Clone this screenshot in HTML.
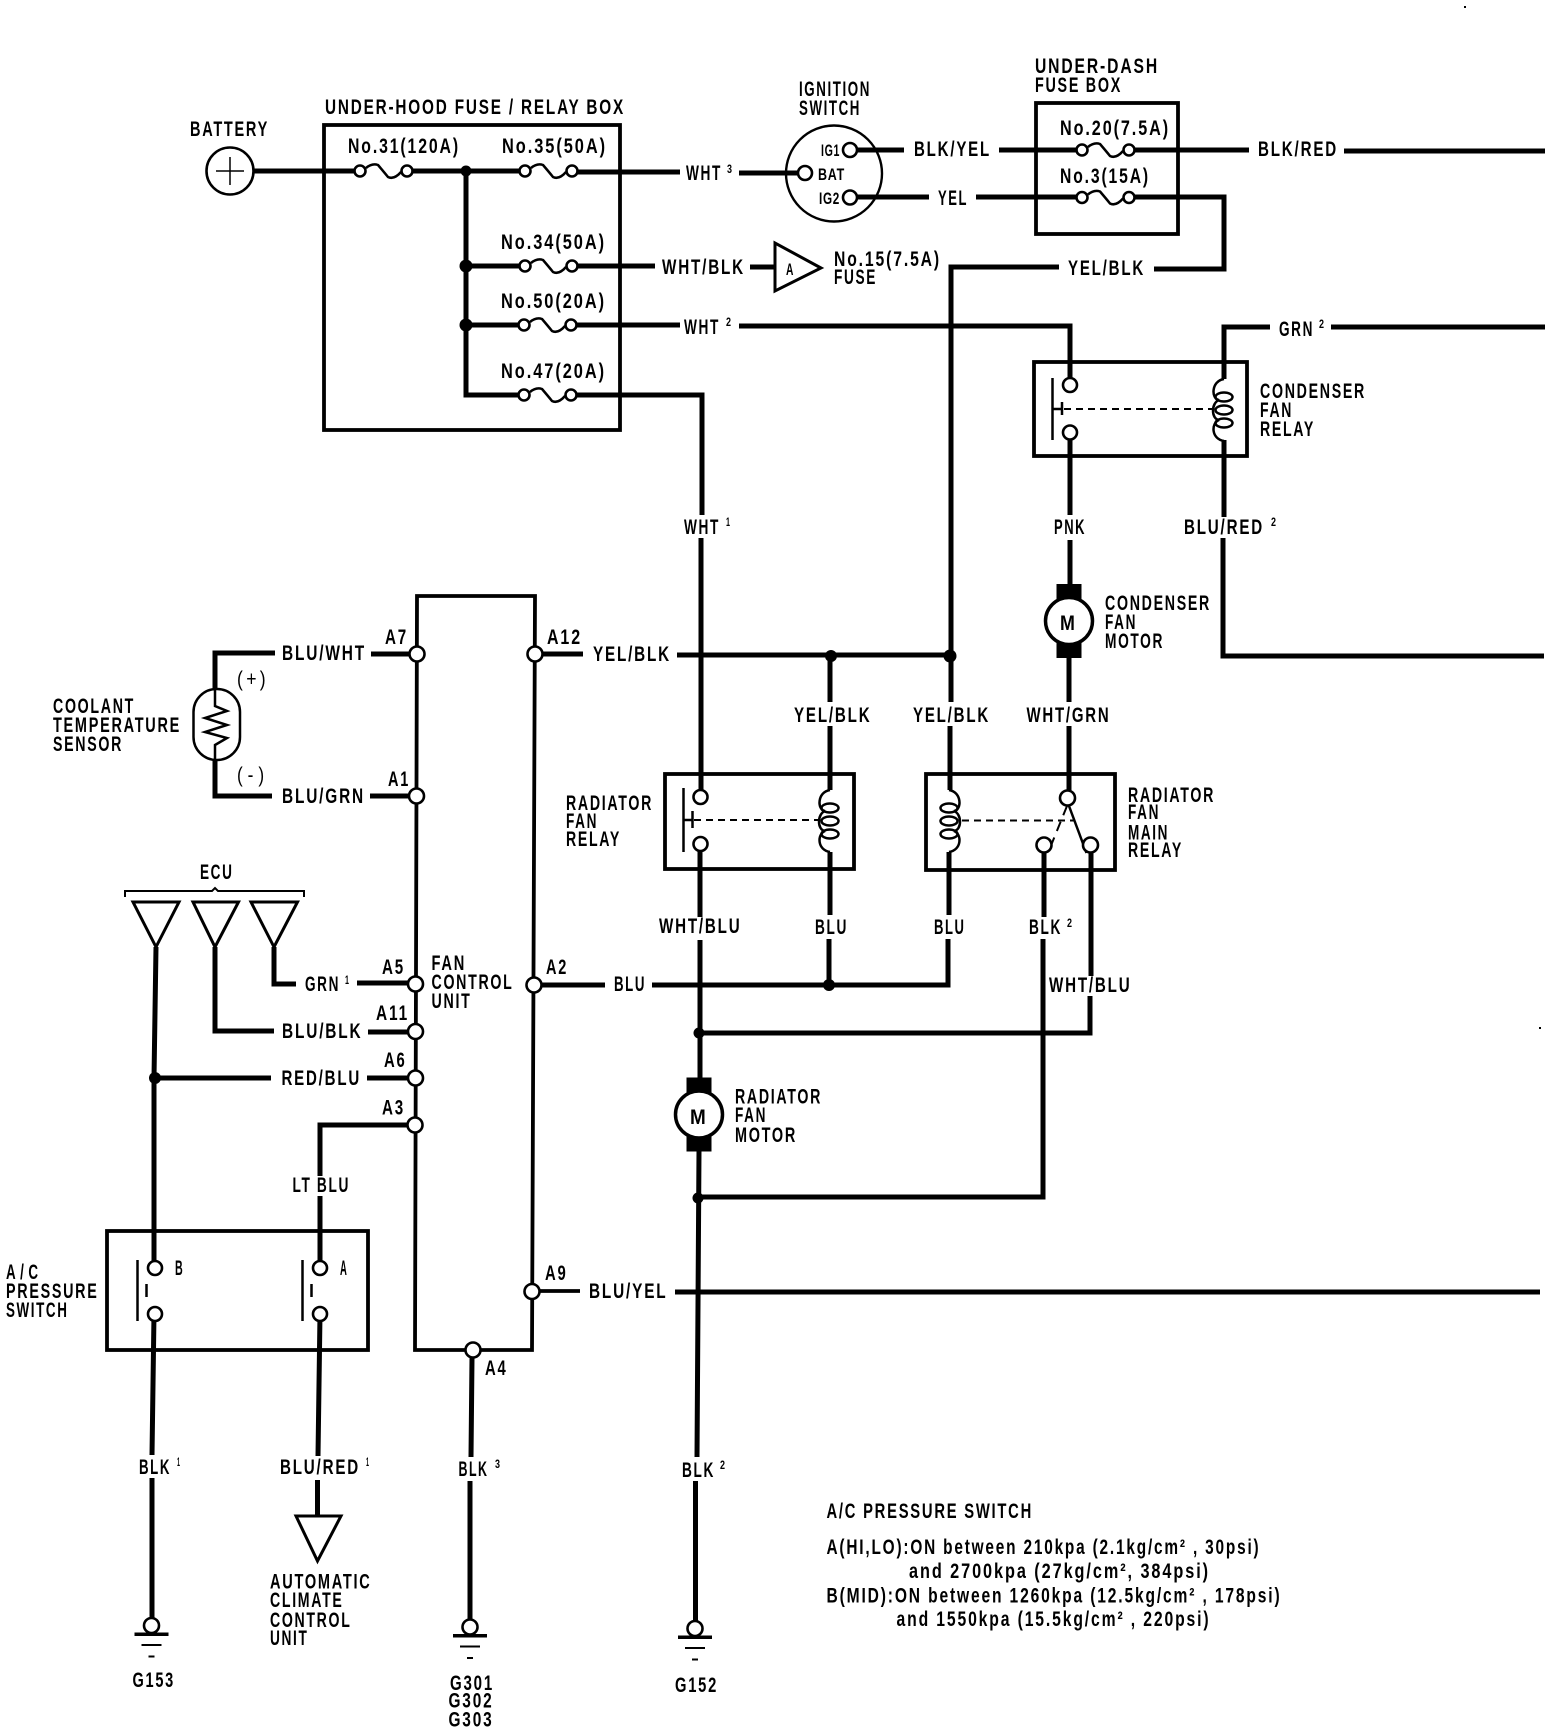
<!DOCTYPE html>
<html><head><meta charset="utf-8"><style>
html,body{margin:0;padding:0;background:#fff}
svg{display:block}
text{font-family:"Liberation Sans",sans-serif;font-weight:bold;font-size:21px;letter-spacing:2.5px;fill:#000;stroke:none}
.s{font-size:12px;letter-spacing:0}.m{font-size:17px;letter-spacing:1px}
.w{fill:none;stroke:#000;stroke-width:5;stroke-linejoin:miter}
.b{fill:none;stroke:#000;stroke-width:3.8}
.l{fill:none;stroke:#000;stroke-width:2.5}
.c{fill:#fff;stroke:#000;stroke-width:2.6}
.f{fill:#000;stroke:none}
</style></head><body>
<svg xmlns="http://www.w3.org/2000/svg" width="1568" height="1734" viewBox="0 0 1568 1734">
<defs>
<g id="fuse"><path class="l" d="M6 -3Q12 -8 18 -6Q24 1 28 6Q34 9 41 1"/><circle class="c" cx="0" cy="0" r="5.5"/><circle class="c" cx="47" cy="0" r="5.5"/></g>
<g id="coil"><path class="l" d="M0 0C-13 2 -13 20 -5 21C-13 24 -13 40 -5 41C-13 44 -13 60 0 62" fill="#fff"/><ellipse class="l" cx="0" cy="18" rx="8.5" ry="4.5"/><ellipse class="l" cx="0" cy="31" rx="8.5" ry="4.5"/><ellipse class="l" cx="0" cy="44" rx="8.5" ry="4.5"/></g>
<g id="gnd"><circle class="c" cx="0" cy="0" r="7.5"/><rect class="f" x="-17" y="7" width="34" height="3.5"/><rect class="f" x="-10" y="18.5" width="20" height="2"/><rect class="f" x="-3" y="30" width="6" height="2"/></g>
<g id="motor"><rect class="f" x="-12.5" y="-37" width="25" height="18"/><rect class="f" x="-12.5" y="20" width="25" height="17"/><circle cx="0" cy="0" r="23.5" fill="#fff" stroke="#000" stroke-width="3.5"/></g>
</defs>
<rect width="1568" height="1734" fill="#fff"/>
<rect class="f" x="1464" y="6" width="2" height="2"/><rect class="f" x="1539" y="1027" width="2" height="2"/>

<!-- wires -->
<path class="w" d="M254 171H360M407 171H525M573 172H680M739 173H805M466 171V395H524M466 266H525M573 266H655M750 267H776M466 325H524M573 325H680M739 326H1070V385M573 395H702V515M701 538V797M700 844V917M700 940V1078M699 1151L697 1457M695.5 1481V1621"/>
<path class="w" d="M857 150H904M999 150H1082M1130 150H1249M1344 151H1545M857 197H929M976 197H1082M1130 197H1224V269H1154M1059 267H951V702M950 726V790M1224 379V327H1270M1331 327H1545M1070 432V515M1070 540V584M1069 658V702M1069 726V798M1224 440V517M1223 538V656H1544M677 655H950M830 656V702M830 726V790M830 852V915M829 939V985M949 852V915M948 939V985H652M540 985H605M1044 845V917M1043 939V1197H698M1091 845V976M1090 996V1033H699"/>
<path class="w" d="M371 654H410M275 653H215V689M215 760V796H272M370 796H410M156 947L154 1078V1268M154 1314L152 1455M152 1478V1618M215 947V1031H274M368 1032H410M274 947V984H296M357 983H410M155 1078H271M367 1078H410M410 1125H320V1176M320 1196V1268M320 1314L318 1456M317.5 1480V1516M542 654H583M675 1292H1540M472 1358L471 1457M470 1481V1620"/>
<path class="b" d="M540 1291H580"/>

<!-- boxes -->
<rect class="b" x="324" y="125" width="296" height="305"/>
<rect class="b" x="1036" y="103" width="142" height="131"/>
<rect class="b" x="1034" y="362" width="213" height="94"/>
<rect class="b" x="665" y="774" width="189" height="95"/>
<rect class="b" x="926" y="774" width="189" height="96"/>
<rect class="b" x="107" y="1231" width="261" height="119"/>
<path class="b" d="M417 596H535L532 1350H415Z"/>

<!-- battery, ignition -->
<circle class="c" cx="230" cy="171" r="23.5"/><path class="l" style="stroke-width:1.5" d="M230 157V185M216 171H244"/>
<path class="w" d="M254 171H258"/>
<circle cx="834" cy="173.5" r="48" fill="none" stroke="#000" stroke-width="2.4"/>
<circle class="c" cx="850" cy="150" r="7"/><circle class="c" cx="805" cy="173" r="7"/><circle class="c" cx="850" cy="197.5" r="7"/>
<path class="w" d="M857 150H882M857 197H882M786 173H798"/>

<!-- fuses -->
<use href="#fuse" x="360" y="171"/><use href="#fuse" x="525" y="171"/><use href="#fuse" x="525" y="266"/><use href="#fuse" x="524" y="325"/><use href="#fuse" x="524" y="395"/><use href="#fuse" x="1082" y="150"/><use href="#fuse" x="1082" y="197.5"/>

<!-- junctions -->
<g class="f"><circle cx="466" cy="171" r="5.5"/><circle cx="466" cy="266" r="6.5"/><circle cx="466" cy="325" r="6.5"/><circle cx="831" cy="656" r="6"/><circle cx="950" cy="656" r="6.5"/><circle cx="829" cy="985" r="6"/><circle cx="699" cy="1033" r="5.5"/><circle cx="698" cy="1198" r="5.5"/><circle cx="155" cy="1078" r="6"/></g>

<!-- connector circles -->
<g class="c"><circle cx="417" cy="654" r="7.5"/><circle cx="416.5" cy="796" r="7.5"/><circle cx="415.5" cy="984" r="7.5"/><circle cx="415.5" cy="1031.5" r="7.5"/><circle cx="415.5" cy="1078" r="7.5"/><circle cx="415" cy="1125" r="7.5"/><circle cx="535" cy="654" r="7.5"/><circle cx="534" cy="985" r="7.5"/><circle cx="532" cy="1291.5" r="7.5"/><circle cx="473" cy="1350" r="7.5"/></g>

<!-- condenser relay -->
<circle class="c" cx="1070" cy="385" r="7"/><circle class="c" cx="1070" cy="432.5" r="7"/>
<path class="l" d="M1052.5 378V440M1052.5 409H1062M1062 402V415"/>
<path class="l" style="stroke-width:2" stroke-dasharray="7 5" d="M1064 409H1214"/>
<use href="#coil" x="1224" y="379"/>
<!-- radiator relay -->
<circle class="c" cx="700.5" cy="797" r="7"/><circle class="c" cx="700.5" cy="844" r="7"/>
<path class="l" d="M683.5 788V852M683.5 820H692.5M692.5 811V828"/>
<path class="l" style="stroke-width:2" stroke-dasharray="7 5" d="M694 820H820"/>
<use href="#coil" x="830" y="790"/>
<!-- main relay -->
<use href="#coil" transform="translate(949 790) scale(-1 1)"/>
<path class="l" style="stroke-width:2" stroke-dasharray="7 5" d="M962 820.5H1074"/>
<path class="l" d="M1069 806L1086.5 853"/>
<path class="l" style="stroke-width:2" stroke-dasharray="10 7" d="M1067 806L1048 853"/>
<circle class="c" cx="1067.5" cy="798" r="7.5"/><circle class="c" cx="1044" cy="845" r="7.5"/><circle class="c" cx="1090.5" cy="845" r="7.5"/>
<!-- ac switch -->
<circle class="c" cx="155" cy="1268" r="7"/><circle class="c" cx="155" cy="1314" r="7"/><circle class="c" cx="320" cy="1268" r="7"/><circle class="c" cx="320" cy="1314" r="7"/>
<path class="l" d="M137.5 1260V1321M146.5 1284V1297M302.5 1260V1321M311.5 1284V1297"/>
<!-- sensor -->
<rect x="193.5" y="689" width="46.5" height="71" rx="23" ry="23" fill="#fff" stroke="#000" stroke-width="2.5"/>
<path class="l" d="M215 689V706L227 711L205 718L227 725L205 732L227 738L215 745V760"/>
<!-- triangles -->
<g fill="#fff" stroke="#000" stroke-width="3"><path d="M133 902H179L156 947Z"/><path d="M193 902H238.5L215 947Z"/><path d="M251 902H297.5L274 947Z"/><path d="M296 1516H341L317.5 1561Z"/><path d="M775 243V291L821 268Z"/></g>
<path class="l" style="stroke-width:2" d="M125 897V891H212L215 888L218 891H304V897"/>
<!-- motors -->
<use href="#motor" x="1069" y="621"/><use href="#motor" x="699" y="1114.5"/>
<!-- grounds -->
<use href="#gnd" x="151.5" y="1625.5"/><use href="#gnd" x="470" y="1627"/><use href="#gnd" x="695" y="1628.5"/>

<!-- labels -->
<text x="325" y="114" textLength="300" lengthAdjust="spacingAndGlyphs">UNDER-HOOD FUSE / RELAY BOX</text>
<text x="190" y="136" textLength="79" lengthAdjust="spacingAndGlyphs">BATTERY</text>
<text x="348" y="153" textLength="112" lengthAdjust="spacingAndGlyphs">No.31(120A)</text>
<text x="502" y="153" textLength="105" lengthAdjust="spacingAndGlyphs">No.35(50A)</text>
<text x="686" y="180" textLength="36" lengthAdjust="spacingAndGlyphs">WHT</text><text class="s" x="727" y="173" textLength="5" lengthAdjust="spacingAndGlyphs">3</text>
<text x="501" y="249" textLength="105" lengthAdjust="spacingAndGlyphs">No.34(50A)</text>
<text x="662" y="274" textLength="83" lengthAdjust="spacingAndGlyphs">WHT/BLK</text>
<text x="501" y="308" textLength="105" lengthAdjust="spacingAndGlyphs">No.50(20A)</text>
<text x="684" y="334" textLength="36" lengthAdjust="spacingAndGlyphs">WHT</text><text class="s" x="726" y="326" textLength="5" lengthAdjust="spacingAndGlyphs">2</text>
<text x="501" y="378" textLength="105" lengthAdjust="spacingAndGlyphs">No.47(20A)</text>
<text x="684" y="534" textLength="36" lengthAdjust="spacingAndGlyphs">WHT</text><text class="s" x="726" y="526" textLength="4" lengthAdjust="spacingAndGlyphs">1</text>
<text x="799" y="96" textLength="72" lengthAdjust="spacingAndGlyphs">IGNITION</text>
<text x="799" y="115" textLength="62" lengthAdjust="spacingAndGlyphs">SWITCH</text>
<text class="m" x="821" y="156" textLength="19" lengthAdjust="spacingAndGlyphs">IG1</text>
<text class="m" x="818" y="180" textLength="27" lengthAdjust="spacingAndGlyphs">BAT</text>
<text class="m" x="819" y="204" textLength="21" lengthAdjust="spacingAndGlyphs">IG2</text>
<text x="914" y="156" textLength="77" lengthAdjust="spacingAndGlyphs">BLK/YEL</text>
<text x="938" y="205" textLength="30" lengthAdjust="spacingAndGlyphs">YEL</text>
<text x="1258" y="156" textLength="80" lengthAdjust="spacingAndGlyphs">BLK/RED</text>
<text x="1035" y="73" textLength="124" lengthAdjust="spacingAndGlyphs">UNDER-DASH</text>
<text x="1035" y="92" textLength="87" lengthAdjust="spacingAndGlyphs">FUSE BOX</text>
<text x="1060" y="135" textLength="110" lengthAdjust="spacingAndGlyphs">No.20(7.5A)</text>
<text x="1060" y="183" textLength="90" lengthAdjust="spacingAndGlyphs">No.3(15A)</text>
<text class="m" x="786" y="275" textLength="8" lengthAdjust="spacingAndGlyphs">A</text>
<text x="834" y="266" textLength="107" lengthAdjust="spacingAndGlyphs">No.15(7.5A)</text>
<text x="834" y="284" textLength="43" lengthAdjust="spacingAndGlyphs">FUSE</text>
<text x="1068" y="275" textLength="77" lengthAdjust="spacingAndGlyphs">YEL/BLK</text>
<text x="1279" y="336" textLength="35" lengthAdjust="spacingAndGlyphs">GRN</text><text class="s" x="1319" y="328" textLength="5" lengthAdjust="spacingAndGlyphs">2</text>
<text x="1260" y="398" textLength="106" lengthAdjust="spacingAndGlyphs">CONDENSER</text>
<text x="1260" y="417" textLength="33" lengthAdjust="spacingAndGlyphs">FAN</text>
<text x="1260" y="436" textLength="55" lengthAdjust="spacingAndGlyphs">RELAY</text>
<text x="1054" y="534" textLength="32" lengthAdjust="spacingAndGlyphs">PNK</text>
<text x="1184" y="534" textLength="80" lengthAdjust="spacingAndGlyphs">BLU/RED</text><text class="s" x="1271" y="526" textLength="5" lengthAdjust="spacingAndGlyphs">2</text>
<text x="1105" y="610" textLength="106" lengthAdjust="spacingAndGlyphs">CONDENSER</text>
<text x="1105" y="629" textLength="32" lengthAdjust="spacingAndGlyphs">FAN</text>
<text x="1105" y="648" textLength="59" lengthAdjust="spacingAndGlyphs">MOTOR</text>
<text x="1060" y="630" textLength="17" lengthAdjust="spacingAndGlyphs">M</text>
<text x="690" y="1124" textLength="18" lengthAdjust="spacingAndGlyphs">M</text>
<text x="735" y="1103.5" textLength="87" lengthAdjust="spacingAndGlyphs">RADIATOR</text>
<text x="735" y="1122" textLength="32" lengthAdjust="spacingAndGlyphs">FAN</text>
<text x="735" y="1142" textLength="62" lengthAdjust="spacingAndGlyphs">MOTOR</text>
<text x="794" y="722" textLength="77.5" lengthAdjust="spacingAndGlyphs">YEL/BLK</text>
<text x="913" y="722" textLength="77" lengthAdjust="spacingAndGlyphs">YEL/BLK</text>
<text x="1026.5" y="722" textLength="84" lengthAdjust="spacingAndGlyphs">WHT/GRN</text>
<text x="1128" y="802" textLength="87" lengthAdjust="spacingAndGlyphs">RADIATOR</text>
<text x="1128" y="819" textLength="32" lengthAdjust="spacingAndGlyphs">FAN</text>
<text x="1128" y="839.5" textLength="41" lengthAdjust="spacingAndGlyphs">MAIN</text>
<text x="1128" y="857" textLength="55" lengthAdjust="spacingAndGlyphs">RELAY</text>
<text x="566" y="810" textLength="87" lengthAdjust="spacingAndGlyphs">RADIATOR</text>
<text x="566" y="828" textLength="32" lengthAdjust="spacingAndGlyphs">FAN</text>
<text x="566" y="846" textLength="55" lengthAdjust="spacingAndGlyphs">RELAY</text>
<text x="659" y="933" textLength="82.5" lengthAdjust="spacingAndGlyphs">WHT/BLU</text>
<text x="815" y="934" textLength="33" lengthAdjust="spacingAndGlyphs">BLU</text>
<text x="934" y="934" textLength="31.5" lengthAdjust="spacingAndGlyphs">BLU</text>
<text x="1029" y="934" textLength="33" lengthAdjust="spacingAndGlyphs">BLK</text><text class="s" x="1067" y="927" textLength="5" lengthAdjust="spacingAndGlyphs">2</text>
<text x="1049" y="992" textLength="82.5" lengthAdjust="spacingAndGlyphs">WHT/BLU</text>
<text x="282" y="660" textLength="84" lengthAdjust="spacingAndGlyphs">BLU/WHT</text>
<text x="385" y="644" textLength="23" lengthAdjust="spacingAndGlyphs">A7</text>
<text x="547" y="644" textLength="35" lengthAdjust="spacingAndGlyphs">A12</text>
<text x="593" y="661" textLength="78" lengthAdjust="spacingAndGlyphs">YEL/BLK</text>
<text x="237" y="686" textLength="32" lengthAdjust="spacingAndGlyphs" style="font-weight:normal;letter-spacing:4px">(+)</text>
<text x="237" y="782" textLength="32" lengthAdjust="spacingAndGlyphs" style="font-weight:normal;letter-spacing:6px">(-)</text>
<text x="282" y="803" textLength="83" lengthAdjust="spacingAndGlyphs">BLU/GRN</text>
<text x="388" y="786" textLength="22" lengthAdjust="spacingAndGlyphs">A1</text>
<text x="53" y="713" textLength="82" lengthAdjust="spacingAndGlyphs">COOLANT</text>
<text x="53" y="732" textLength="128" lengthAdjust="spacingAndGlyphs">TEMPERATURE</text>
<text x="53" y="751" textLength="70" lengthAdjust="spacingAndGlyphs">SENSOR</text>
<text x="200" y="879" textLength="33.5" lengthAdjust="spacingAndGlyphs">ECU</text>
<text x="305" y="991" textLength="35" lengthAdjust="spacingAndGlyphs">GRN</text><text class="s" x="345" y="984" textLength="4" lengthAdjust="spacingAndGlyphs">1</text>
<text x="382" y="974" textLength="23" lengthAdjust="spacingAndGlyphs">A5</text>
<text x="546" y="974" textLength="22" lengthAdjust="spacingAndGlyphs">A2</text>
<text x="614" y="991" textLength="32" lengthAdjust="spacingAndGlyphs">BLU</text>
<text x="431.5" y="970" textLength="34.5" lengthAdjust="spacingAndGlyphs">FAN</text>
<text x="431.5" y="989" textLength="82" lengthAdjust="spacingAndGlyphs">CONTROL</text>
<text x="431.5" y="1008" textLength="40" lengthAdjust="spacingAndGlyphs">UNIT</text>
<text x="282" y="1038" textLength="80.5" lengthAdjust="spacingAndGlyphs">BLU/BLK</text>
<text x="376" y="1020" textLength="33" lengthAdjust="spacingAndGlyphs">A11</text>
<text x="281.5" y="1085" textLength="79.5" lengthAdjust="spacingAndGlyphs">RED/BLU</text>
<text x="384" y="1067" textLength="22.5" lengthAdjust="spacingAndGlyphs">A6</text>
<text x="382" y="1114.5" textLength="23" lengthAdjust="spacingAndGlyphs">A3</text>
<text x="292.5" y="1192" textLength="57.5" lengthAdjust="spacingAndGlyphs">LT BLU</text>
<text x="175" y="1275" textLength="9" lengthAdjust="spacingAndGlyphs">B</text>
<text x="340" y="1275" textLength="8" lengthAdjust="spacingAndGlyphs">A</text>
<text x="6" y="1279" textLength="36.5" lengthAdjust="spacingAndGlyphs" style="letter-spacing:7px">A/C</text>
<text x="6" y="1298" textLength="92.5" lengthAdjust="spacingAndGlyphs">PRESSURE</text>
<text x="6" y="1317" textLength="62.5" lengthAdjust="spacingAndGlyphs">SWITCH</text>
<text x="545" y="1280" textLength="22.5" lengthAdjust="spacingAndGlyphs">A9</text>
<text x="589" y="1298" textLength="78.5" lengthAdjust="spacingAndGlyphs">BLU/YEL</text>
<text x="485" y="1375" textLength="22.5" lengthAdjust="spacingAndGlyphs">A4</text>
<text x="139" y="1474" textLength="32" lengthAdjust="spacingAndGlyphs">BLK</text><text class="s" x="177" y="1466" textLength="3" lengthAdjust="spacingAndGlyphs">1</text>
<text x="280" y="1474" textLength="80" lengthAdjust="spacingAndGlyphs">BLU/RED</text><text class="s" x="366" y="1466" textLength="3" lengthAdjust="spacingAndGlyphs">1</text>
<text x="458.5" y="1476" textLength="30" lengthAdjust="spacingAndGlyphs">BLK</text><text class="s" x="495" y="1468" textLength="5" lengthAdjust="spacingAndGlyphs">3</text>
<text x="682" y="1477" textLength="33" lengthAdjust="spacingAndGlyphs">BLK</text><text class="s" x="720" y="1469" textLength="5" lengthAdjust="spacingAndGlyphs">2</text>
<text x="270" y="1588.7" textLength="101.5" lengthAdjust="spacingAndGlyphs">AUTOMATIC</text>
<text x="270" y="1607" textLength="73.5" lengthAdjust="spacingAndGlyphs">CLIMATE</text>
<text x="270" y="1627" textLength="81.5" lengthAdjust="spacingAndGlyphs">CONTROL</text>
<text x="270" y="1645" textLength="38.5" lengthAdjust="spacingAndGlyphs">UNIT</text>
<text x="132.5" y="1687" textLength="42.5" lengthAdjust="spacingAndGlyphs">G153</text>
<text x="450" y="1690" textLength="44" lengthAdjust="spacingAndGlyphs">G301</text>
<text x="448.5" y="1707.5" textLength="45" lengthAdjust="spacingAndGlyphs">G302</text>
<text x="448.5" y="1726.5" textLength="45" lengthAdjust="spacingAndGlyphs">G303</text>
<text x="675" y="1692" textLength="43" lengthAdjust="spacingAndGlyphs">G152</text>
<text x="826.5" y="1518" textLength="206.5" lengthAdjust="spacingAndGlyphs">A/C PRESSURE SWITCH</text>
<text x="826.5" y="1554" textLength="434" lengthAdjust="spacingAndGlyphs">A(HI,LO):ON between 210kpa (2.1kg/cm² , 30psi)</text>
<text x="909" y="1578" textLength="301" lengthAdjust="spacingAndGlyphs">and 2700kpa (27kg/cm², 384psi)</text>
<text x="826.5" y="1602.5" textLength="455" lengthAdjust="spacingAndGlyphs">B(MID):ON between 1260kpa (12.5kg/cm² , 178psi)</text>
<text x="896.5" y="1626" textLength="314" lengthAdjust="spacingAndGlyphs">and 1550kpa (15.5kg/cm² , 220psi)</text>
</svg>
</body></html>
